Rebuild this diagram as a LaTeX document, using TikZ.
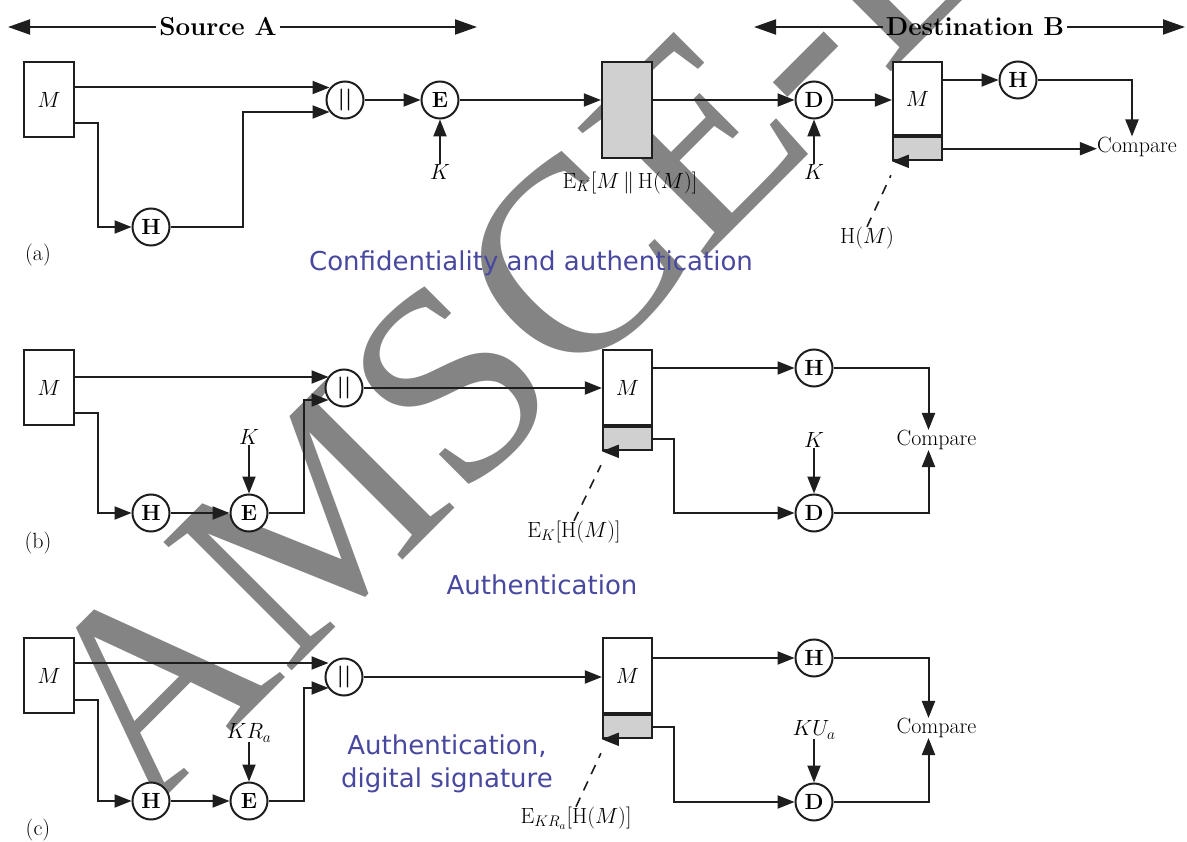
\documentclass[tikz,border=0pt]{standalone}
\usepackage{fix-cm}
\usepackage{fontspec}
\newfontfamily\dejavu{DejaVu Sans}
\newfontfamily\wmfont{Liberation Serif}
\usetikzlibrary{arrows.meta}
\definecolor{ink}{RGB}{30,30,30}
\definecolor{boxgray}{RGB}{208,208,208}
\definecolor{bluetxt}{RGB}{72,72,160}
\definecolor{wmgray}{RGB}{132,132,132}
\begin{document}
\begin{tikzpicture}[x=1pt,y=-1pt,
  arr/.style={line width=2pt, draw=ink, -{Triangle[length=17pt,width=13pt]}},
  hdr/.style={line width=2pt, draw=ink, -{Triangle[length=22pt,width=15pt]}},
  op/.style={circle, draw=ink, line width=2pt, fill=white, minimum size=37pt, inner sep=0pt, font=\fontsize{22}{22}\selectfont\bfseries},
  msgbox/.style={rectangle, draw=ink, line width=2.2pt, fill=white, minimum width=50pt, minimum height=75pt, inner sep=0pt, font=\fontsize{22}{22}\selectfont},
  gpart/.style={rectangle, draw=ink, line width=2.2pt, fill=boxgray, minimum width=49pt, minimum height=23pt, inner sep=0pt},
  lab/.style={font=\fontsize{22}{24}\selectfont, inner sep=0pt},
  hdrtxt/.style={font=\fontsize{26}{30}\selectfont\bfseries, inner sep=3pt},
  caption/.style={font=\fontsize{26}{33}\selectfont\dejavu, text=bluetxt, align=center, inner sep=0pt},
  lead/.style={line width=1.6pt, draw=ink, dash pattern=on 10pt off 8pt},
]
\useasboundingbox (0,0) rectangle (1187,842);
\fill[white] (0,0) rectangle (1187,842);
% watermark
\begin{scope}
\clip (0,0) rectangle (1187,842);
\node[rotate=45, anchor=base west, inner sep=0pt, text=wmgray, font=\fontsize{277}{277}\selectfont\wmfont] (wm) at (145,818) {AMSCE-L};
\end{scope}

% headers
\node[hdrtxt] (srcA) at (218,27) {Source A};
\coordinate (srcL) at (8,27);
\coordinate (srcR) at (477,27);
\draw[hdr] (srcA.west) -- (srcL);
\draw[hdr] (srcA.east) -- (srcR);
\node[hdrtxt] (dstB) at (975,27) {Destination B};
\coordinate (dstL) at (754,27);
\coordinate (dstR) at (1185,27);
\draw[hdr] (dstB.west) -- (dstL);
\draw[hdr] (dstB.east) -- (dstR);

% ---------- panel (a)
\node[msgbox] (Ma) at (49,99.5) {$M$};
\node[op] (Ha) at (151,227) {H};
\node[op] (Ca) at (345,100) {||};
\node[op] (Ea) at (440,100) {E};
\node[lab] (Ka) at (440,172) {$K$};
\node[rectangle, draw=ink, line width=2.2pt, fill=boxgray, minimum width=50pt, minimum height=96pt] (Ga) at (627,110) {};
\node[lab] (ELa) at (630,183) {$\mathrm{E}_K[M\,\|\,\mathrm{H}(M)]$};
\node[op] (Da) at (814,100) {D};
\node[lab] (KDa) at (814,172) {$K$};
\node[msgbox, minimum width=49pt, minimum height=73pt] (MDa) at (917.5,98.5) {$M$};
\node[gpart, anchor=north] (MGa) at (MDa.south) {};
\node[op] (HDa) at (1018,80) {H};
\node[lab] (CMa) at (1137,146.5) {Compare};
\node[lab] (HMa) at (867,238) {H($M$)};
\node[lab] (la) at (38,255) {(a)};
\node[caption] (ta) at (531,263) {Confidentiality and authentication};

\draw[arr, shorten >=-4pt] ([yshift=12pt]Ma.east) -- ([yshift=12pt]Ma.east -| Ca.west);
\draw[arr] ([yshift=-24pt]Ma.east) -- ++(23,0) |- (Ha.west);
\draw[arr, shorten >=-4pt] (Ha.east) -- ++(72,0) |- ([yshift=-12pt]Ca.west);
\draw[arr] (Ca) -- (Ea);
\draw[arr] (Ka) -- (Ea);
\draw[arr] (Ea.east) -- (Ea.east -| Ga.west);
\draw[arr] (Da.west -| Ga.east) -- (Da.west);
\draw[arr] (KDa) -- (Da);
\draw[arr] (Da.east) -- (Da.east -| MDa.west);
\draw[arr] ([yshift=18.5pt]MDa.east) -- ([yshift=18.5pt]MDa.east -| HDa.west);
\draw[arr] (HDa.east) -| ([xshift=-5pt]CMa.north);
\draw[arr] (MGa.east) -- (MGa.east -| CMa.west);
\draw[arr] ([xshift=17pt]MGa.south west) -- (MGa.south west);
\draw[lead] (HMa.north) -- ([xshift=-1pt,yshift=-14pt]MGa.south west);

% ---------- panel (b)
\node[msgbox] (Mb) at (49,387.5) {$M$};
\node[op] (Hb) at (151,513) {H};
\node[op] (Eb) at (249,513) {E};
\node[lab] (Kb) at (249,437) {$K$};
\node[op] (Cb) at (344,388) {||};
\node[msgbox, minimum width=49pt] (MDb) at (627.5,387.5) {$M$};
\node[gpart, anchor=north] (MGb) at (MDb.south) {};
\node[op] (HDb) at (814,368) {H};
\node[op] (DDb) at (814,513) {D};
\node[lab] (KDb) at (814,440) {$K$};
\node[lab] (CMb) at (936.5,440) {Compare};
\node[lab] (ELb) at (574,532) {$\mathrm{E}_K[\mathrm{H}(M)]$};
\node[lab] (lb) at (38,543) {(b)};
\node[caption] (tb) at (542,585) {Authentication};

\draw[arr, shorten >=-4pt] ([yshift=10.5pt]Mb.east) -- ([yshift=10.5pt]Mb.east -| Cb.west);
\draw[arr] ([yshift=-25.5pt]Mb.east) -- ++(23,0) |- (Hb.west);
\draw[arr] (Hb) -- (Eb);
\draw[arr] (Kb) -- (Eb);
\draw[arr, shorten >=-4pt] (Eb.east) -- ++(35,0) |- ([yshift=-12pt]Cb.west);
\draw[arr] (Cb.east) -- (Cb.east -| MDb.west);
\draw[arr] ([yshift=19.5pt]MDb.east) -- ([yshift=19.5pt]MDb.east -| HDb.west);
\draw[arr] (HDb.east) -| ([xshift=-8pt]CMb.north);
\draw[arr] (MGb.east) -- ++(21,0) |- (DDb.west);
\draw[arr] (KDb) -- (DDb);
\draw[arr] (DDb.east) -| ([xshift=-8pt]CMb.south);
\draw[arr] ([xshift=17pt]MGb.south west) -- (MGb.south west);
\draw[lead] (ELb.north) -- ([xshift=-1pt,yshift=-14pt]MGb.south west);

% ---------- panel (c)
\node[msgbox] (Mc) at (49,675.5) {$M$};
\node[op] (Hc) at (151,801) {H};
\node[op] (Ec) at (249,801) {E};
\node[lab] (Kc) at (249,733) {$KR_a$};
\node[op] (Cc) at (344,677) {||};
\node[msgbox, minimum width=49pt] (MDc) at (627.5,675.5) {$M$};
\node[gpart, anchor=north] (MGc) at (MDc.south) {};
\node[op] (HDc) at (814,658) {H};
\node[op] (DDc) at (814,802) {D};
\node[lab] (KDc) at (814,730) {$KU_a$};
\node[lab] (CMc) at (936.5,728) {Compare};
\node[lab] (ELc) at (576,818) {$\mathrm{E}_{KR_a}[\mathrm{H}(M)]$};
\node[lab] (lc) at (38,830) {(c)};
\node[caption] (tc) at (447,764) {Authentication,\\digital signature};

\draw[arr, shorten >=-4pt] ([yshift=12.5pt]Mc.east) -- ([yshift=12.5pt]Mc.east -| Cc.west);
\draw[arr] ([yshift=-24.5pt]Mc.east) -- ++(23,0) |- (Hc.west);
\draw[arr] (Hc) -- (Ec);
\draw[arr] (Kc) -- (Ec);
\draw[arr, shorten >=-4pt] (Ec.east) -- ++(35,0) |- ([yshift=-11pt]Cc.west);
\draw[arr] (Cc.east) -- (Cc.east -| MDc.west);
\draw[arr] ([yshift=17.5pt]MDc.east) -- ([yshift=17.5pt]MDc.east -| HDc.west);
\draw[arr] (HDc.east) -| ([xshift=-8pt]CMc.north);
\draw[arr] (MGc.east) -- ++(21,0) |- (DDc.west);
\draw[arr] (KDc) -- (DDc);
\draw[arr] (DDc.east) -| ([xshift=-8pt]CMc.south);
\draw[arr] ([xshift=17pt]MGc.south west) -- (MGc.south west);
\draw[lead] (ELc.north) -- ([xshift=-1pt,yshift=-14pt]MGc.south west);
\end{tikzpicture}
\end{document}
